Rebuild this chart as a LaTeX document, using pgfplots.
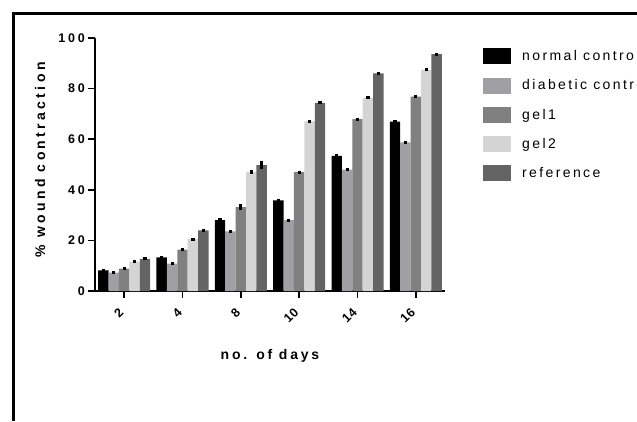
\documentclass[border=0pt]{standalone}
\usepackage{fontspec}
\setmainfont{Liberation Sans}
\newfontfamily\tickfont[LetterSpace=22]{Liberation Sans}
\newfontfamily\xtickfont[LetterSpace=8]{Liberation Sans}
\newfontfamily\labfont[LetterSpace=20]{Liberation Sans}
\newfontfamily\ylabfont[LetterSpace=24]{Liberation Sans}
\newfontfamily\legfont[LetterSpace=17]{Liberation Sans}
\usepackage{pgfplots}
\pgfplotsset{compat=1.18}
\definecolor{cnormal}{HTML}{000000}
\definecolor{cdiab}{HTML}{A0A0A4}
\definecolor{cgelone}{HTML}{808080}
\definecolor{cgeltwo}{HTML}{D4D4D4}
\definecolor{cref}{HTML}{646464}
\begin{document}
\begin{tikzpicture}
\useasboundingbox (0,0) rectangle (637pt,421pt);
\clip (0,0) rectangle (637pt,421pt);
\draw[line width=3pt] (13.3pt,0) -- (13.3pt,407.2pt) -- (640pt,407.2pt);
\begin{axis}[
  at={(95pt,130pt)}, anchor=south west,
  scale only axis, width=350pt, height=253pt,
  xmin=-0.5, xmax=5.5, ymin=0, ymax=100,
  axis x line*=bottom, axis y line*=left,
  axis line style={line width=1.5pt},
  every tick/.style={line width=1.5pt, black},
  tick align=outside, major tick length=7pt,
  xtick={0,1,2,3,4,5},
  xticklabels={2,4,8,10,14,16},
  ytick={0,20,40,60,80,100},
  /pgf/number format/assume math mode=true,
  yticklabel style={font=\fontsize{12.5}{14}\selectfont\bfseries\tickfont, inner sep=1pt, xshift=-2pt},
  xticklabel style={font=\fontsize{12.5}{14}\selectfont\bfseries\xtickfont, xshift=-2pt, yshift=-11.5pt, rotate=45, anchor=east, inner sep=1pt},
  xlabel={no. of days},
  ylabel={\% wound contraction},
  xlabel style={font=\fontsize{14}{16}\selectfont\bfseries\labfont, at={(axis description cs:0.5,-0.255)}, anchor=center},
  ylabel style={font=\fontsize{14}{16}\selectfont\bfseries\ylabfont, at={(axis description cs:-0.157,0.518)}, anchor=center},
  ybar=0pt, bar width=10.4pt,
  enlarge x limits=false,
  error bars/y dir=both, error bars/y explicit,
  error bars/error bar style={line width=3.2pt, black},
  error bars/error mark=none,
  legend style={at={(axis description cs:1.1,0.968)}, anchor=north west, draw=none, fill=none,
    font=\fontsize{14}{16}\selectfont\legfont,
    nodes={inner sep=0pt, anchor=west},
    row sep=13.3pt,
    /tikz/every odd column/.append style={column sep=11pt}},
  legend cell align=left,
  clip=false,
]
\addplot[fill=cnormal, draw=none, bar shift=-20.8pt, legend image code/.code={\fill[cnormal] (0pt,-8pt) rectangle (28pt,8pt);}]
  coordinates {(0,8.2) +- (0,0.6) (1,13.3) +- (0,0.6) (2,28.0) +- (0,0.7) (3,35.8) +- (0,0.7) (4,53.4) +- (0,0.7) (5,66.9) +- (0,0.6)};
\addplot[fill=cdiab, draw=none, bar shift=-10.4pt, legend image code/.code={\fill[cdiab] (0pt,-8pt) rectangle (28pt,8pt);}]
  coordinates {(0,7.3) +- (0,0.6) (1,10.8) +- (0,0.6) (2,23.6) +- (0,0.7) (3,28.0) +- (0,0.6) (4,48.0) +- (0,0.6) (5,58.7) +- (0,0.6)};
\addplot[fill=cgelone, draw=none, bar shift=0pt, legend image code/.code={\fill[cgelone] (0pt,-8pt) rectangle (28pt,8pt);}]
  coordinates {(0,8.8) +- (0,0.6) (1,16.4) +- (0,0.7) (2,33.2) +- (0,1.2) (3,47.0) +- (0,0.6) (4,67.9) +- (0,0.6) (5,76.8) +- (0,0.6)};
\addplot[fill=cgeltwo, draw=none, bar shift=10.4pt, legend image code/.code={\fill[cgeltwo] (0pt,-8pt) rectangle (28pt,8pt);}]
  coordinates {(0,11.6) +- (0,0.6) (1,20.5) +- (0,0.6) (2,47.0) +- (0,0.7) (3,67.0) +- (0,0.6) (4,76.3) +- (0,0.6) (5,87.4) +- (0,0.6)};
\addplot[fill=cref, draw=none, bar shift=20.8pt, legend image code/.code={\fill[cref] (0pt,-8pt) rectangle (28pt,8pt);}]
  coordinates {(0,12.7) +- (0,0.6) (1,24.0) +- (0,0.7) (2,49.8) +- (0,1.4) (3,74.4) +- (0,0.6) (4,86.0) +- (0,0.7) (5,93.6) +- (0,0.6)};
\legend{normal control, diabetic control, gel1, gel2, reference}
\end{axis}
\end{tikzpicture}
\end{document}
